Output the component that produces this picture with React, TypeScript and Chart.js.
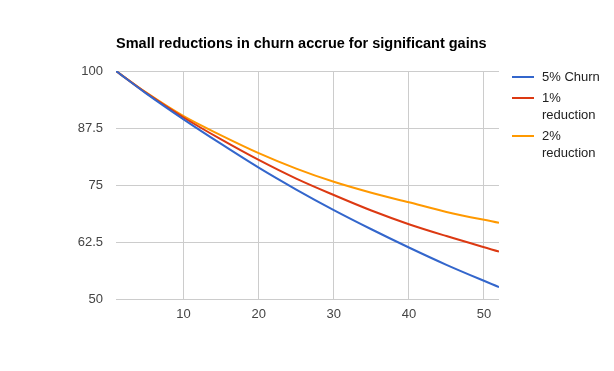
import React, { useEffect, useRef } from "react";
import { Chart, registerables } from "chart.js";

Chart.register(...registerables);

const TITLE = "Small reductions in churn accrue for significant gains";
const weeks = [1, 5, 10, 15, 20, 25, 30, 35, 40, 45, 52];
const churn5 = [100, 95.1, 89.4, 84.0, 78.8, 74.0, 69.5, 65.3, 61.3, 57.5, 52.6];
const reduction1 = [100, 95.2, 89.8, 85.0, 80.5, 76.4, 72.8, 69.4, 66.4, 63.8, 60.4];
const reduction2 = [100, 95.3, 90.1, 85.9, 82.0, 78.6, 75.7, 73.3, 71.2, 69.1, 66.7];
const seriesLabels = ["5% Churn", "1% reduction", "2% reduction"];
const seriesColors = ["#3366cc", "#dc3912", "#ff9900"];
const xTicks = [10, 20, 30, 40, 50];
const yTicks = [50, 62.5, 75, 87.5, 100];

const FONT = "'Liberation Sans', Arial, sans-serif";

const titleLegendPlugin = {
  id: "titleLegend",
  afterDraw(chart: any) {
    const ctx = chart.ctx;
    const area = chart.chartArea;
    ctx.save();
    // title
    ctx.font = `bold 14.5px ${FONT}`;
    ctx.fillStyle = "#000";
    ctx.textAlign = "left";
    ctx.textBaseline = "middle";
    ctx.fillText(TITLE, area.left, 44);
    // legend
    ctx.font = `13px ${FONT}`;
    const lineX = area.right + 13;
    const textX = lineX + 30;
    const maxW = chart.width - textX - 8;
    let y = area.top + 6;
    chart.data.datasets.forEach((ds: any) => {
      const words = String(ds.label).split(" ");
      const lines: string[] = [];
      let cur = "";
      words.forEach((w: string) => {
        const test = cur ? cur + " " + w : w;
        if (cur && ctx.measureText(test).width > maxW) {
          lines.push(cur);
          cur = w;
        } else cur = test;
      });
      if (cur) lines.push(cur);
      ctx.strokeStyle = ds.borderColor;
      ctx.lineWidth = 2;
      ctx.beginPath();
      ctx.moveTo(lineX, y);
      ctx.lineTo(lineX + 22, y);
      ctx.stroke();
      ctx.fillStyle = "#222";
      lines.forEach((ln, i) => {
        ctx.fillText(ln, textX, y + i * 17);
      });
      y += (lines.length - 1) * 17 + 21;
    });
    ctx.restore();
  },
};

export default function App() {
  const ref = useRef<HTMLCanvasElement | null>(null);
  useEffect(() => {
    if (!ref.current) return;
    const series = [churn5, reduction1, reduction2];
    const chart = new Chart(ref.current, {
      type: "line",
      data: {
        datasets: series.map((vals, i) => ({
          label: seriesLabels[i],
          data: weeks.map((w, j) => ({ x: w, y: vals[j] })),
          borderColor: seriesColors[i],
          backgroundColor: seriesColors[i],
          borderWidth: 2,
          pointRadius: 0,
          cubicInterpolationMode: "monotone" as const,
          fill: false,
        })),
      },
      options: {
        responsive: false,
        animation: false,
        layout: { padding: { top: 71, right: 115, left: 0, bottom: 0 } },
        plugins: {
          legend: { display: false },
          title: { display: false },
          tooltip: { enabled: false },
        },
        scales: {
          x: {
            type: "linear",
            min: 1,
            max: 52,
            afterBuildTicks: (axis: any) => {
              axis.ticks = xTicks.map((v) => ({ value: v }));
            },
            afterFit: (axis: any) => {
              axis.height = 72;
            },
            grid: { color: "#cccccc", drawTicks: false, lineWidth: 1 },
            border: { display: false },
            ticks: {
              padding: 8,
              color: "#444",
              font: { family: FONT, size: 13 },
              maxRotation: 0,
            },
          },
          y: {
            type: "linear",
            min: 50,
            max: 100,
            afterBuildTicks: (axis: any) => {
              axis.ticks = yTicks.map((v) => ({ value: v }));
            },
            afterFit: (axis: any) => {
              axis.width = 116;
            },
            grid: { color: "#cccccc", drawTicks: false, lineWidth: 1 },
            border: { display: false },
            ticks: {
              padding: 13,
              color: "#444",
              font: { family: FONT, size: 13 },
              callback: (v: any) => String(v),
            },
          },
        },
      },
      plugins: [titleLegendPlugin],
    });
    return () => chart.destroy();
  }, []);
  return (
    <div style={{ position: "absolute", left: 0, top: 0, width: 614, height: 371, background: "#fff" }}>
      <canvas ref={ref} width={614} height={371} style={{ display: "block" }} />
    </div>
  );
}
